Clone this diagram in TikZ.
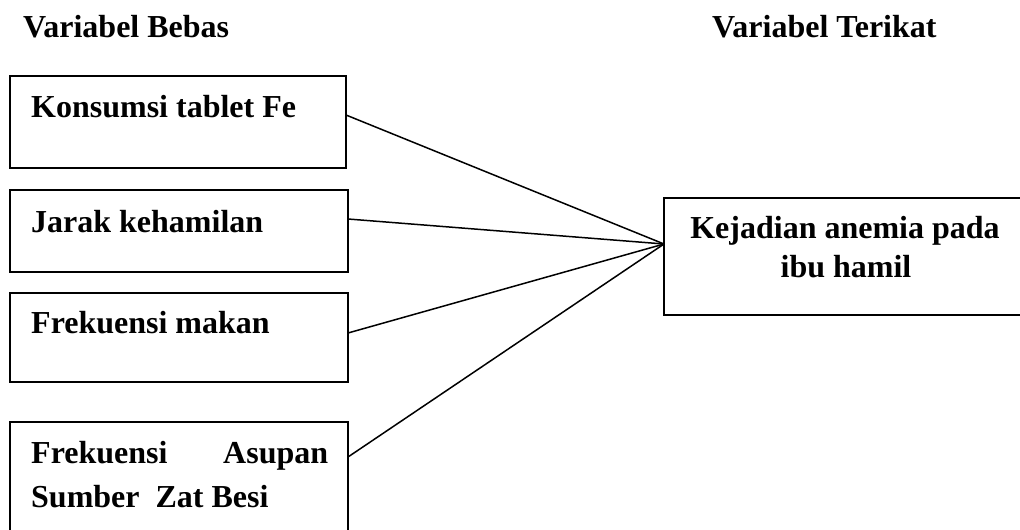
\documentclass[tikz,border=0pt]{standalone}
\usepackage{fontspec}
\setmainfont{Liberation Serif}
\usetikzlibrary{calc}
\begin{document}
\begin{tikzpicture}[x=1pt,y=-1pt,
  box/.style={draw,line width=1.5pt,inner sep=0pt,outer sep=0pt},
  txt/.style={font=\fontsize{32}{38}\selectfont\bfseries,inner sep=0pt,anchor=base west},
  ctxt/.style={txt,anchor=base},
  link/.style={line width=1.5pt}]
\useasboundingbox (0,0) rectangle (1020,530);
\clip (0,0) rectangle (1020,530);
% headings
\node[txt] (h1) at (23,37) {Variabel Bebas};
\node[txt] (h2) at (712,37) {Variabel Terikat};
% boxes
\node[box,minimum width=336pt,minimum height=92pt] (b1) at (178,122) {};
\node[box,minimum width=338pt,minimum height=82pt] (b2) at (179,231) {};
\node[box,minimum width=338pt,minimum height=89pt] (b3) at (179,337.5) {};
\node[box,minimum width=338pt,minimum height=118pt] (b4) at (179,481) {};
\node[box,minimum width=366pt,minimum height=117pt] (r) at (847,256.5) {};
% texts
\node[txt] (t1) at (31,117) {Konsumsi tablet Fe};
\node[txt] (t2) at (31,232) {Jarak kehamilan};
\node[txt] (t3) at (31,333) {Frekuensi makan};
\node[txt] (t4a) at (31,463) {\makebox[297pt][s]{Frekuensi Asupan}};
\node[txt] (t4b) at (31,507) {Sumber\ \ Zat Besi};
\node[ctxt] (ra) at (845,238) {Kejadian anemia pada};
\node[ctxt] (rb) at (846,277) {ibu hamil};
% connectors
\coordinate (hub) at ($(r.north west)+(0,46)$);
\draw[link] ($(b1.north east)+(0,39)$) -- (hub);
\draw[link] ($(b2.north east)+(0,29)$) -- (hub);
\draw[link] ($(b3.north east)+(0,40)$) -- (hub);
\draw[link] ($(b4.north east)+(0,35)$) -- (hub);
\end{tikzpicture}
\end{document}
